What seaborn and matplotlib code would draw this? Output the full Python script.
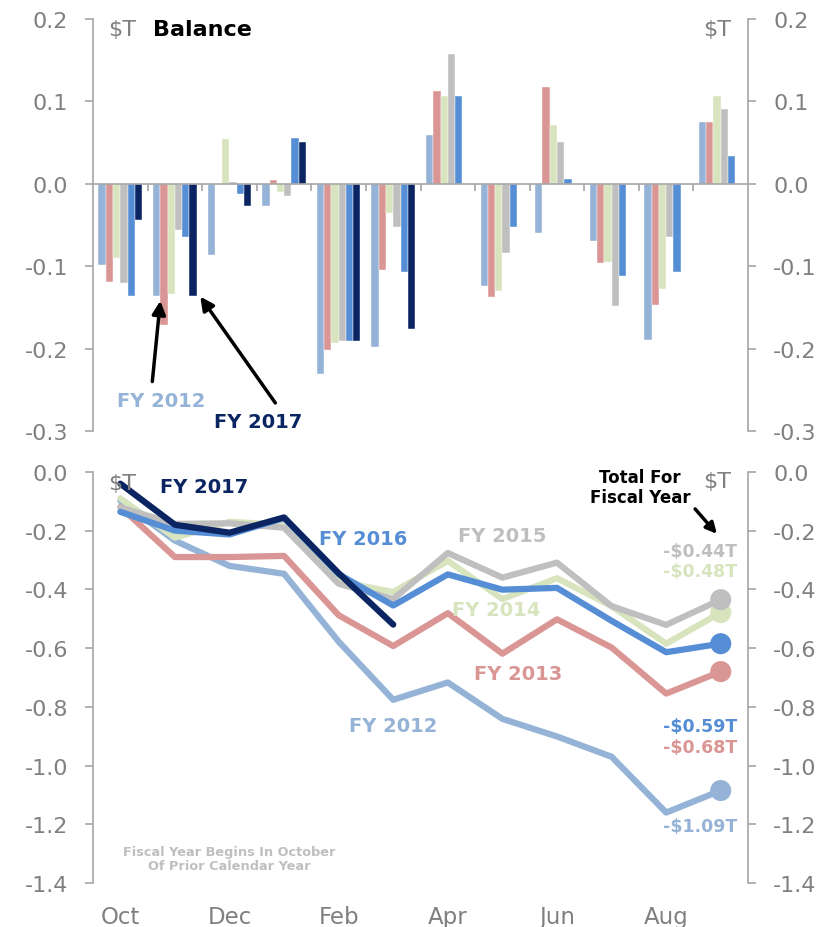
import pandas as pd
import numpy as np
import matplotlib.pyplot as plt
from matplotlib.ticker import FormatStrFormatter
import seaborn as sns

months = ['Oct', 'Nov', 'Dec', 'Jan', 'Feb', 'Mar', 'Apr', 'May', 'Jun', 'Jul', 'Aug', 'Sep']
fy_labels = ['FY 2012', 'FY 2013', 'FY 2014', 'FY 2015', 'FY 2016', 'FY 2017']
fy_colors = ['#95B3D7', '#DA9694', '#D7E4BD', '#BFBFBF', '#558ED5', '#0B2562']

# monthly balance, $T
bal_2012 = [-0.098, -0.136, -0.086, -0.027, -0.231, -0.198, 0.059, -0.124, -0.060, -0.069, -0.190, 0.075]
bal_2013 = [-0.119, -0.171, 0.000, 0.004, -0.202, -0.105, 0.112, -0.138, 0.117, -0.096, -0.147, 0.075]
bal_2014 = [-0.090, -0.134, 0.054, -0.010, -0.193, -0.036, 0.106, -0.130, 0.071, -0.095, -0.128, 0.106]
bal_2015 = [-0.121, -0.056, 0.002, -0.015, -0.191, -0.052, 0.157, -0.084, 0.051, -0.148, -0.064, 0.091]
bal_2016 = [-0.136, -0.064, -0.013, 0.056, -0.191, -0.107, 0.106, -0.052, 0.006, -0.112, -0.107, 0.034]
bal_2017 = [-0.044, -0.136, -0.027, 0.051, -0.191, -0.176]

# running total for the fiscal year, $T
cum_2012 = [-0.098, -0.234, -0.320, -0.347, -0.578, -0.776, -0.717, -0.841, -0.901, -0.970, -1.160, -1.085]
cum_2013 = [-0.119, -0.290, -0.290, -0.286, -0.488, -0.593, -0.481, -0.619, -0.502, -0.598, -0.755, -0.680]
cum_2014 = [-0.090, -0.224, -0.170, -0.180, -0.373, -0.409, -0.303, -0.433, -0.362, -0.457, -0.585, -0.479]
cum_2015 = [-0.121, -0.177, -0.175, -0.190, -0.381, -0.433, -0.276, -0.360, -0.309, -0.457, -0.521, -0.435]
cum_2016 = [-0.136, -0.200, -0.213, -0.157, -0.348, -0.455, -0.349, -0.401, -0.395, -0.507, -0.614, -0.585]
cum_2017 = [-0.040, -0.180, -0.207, -0.155, -0.345, -0.520]

total_labels = ['-$1.09T', '-$0.68T', '-$0.48T', '-$0.44T', '-$0.59T']

sns.set_style('white')
plt.rcParams['font.family'] = ['DejaVu Sans']
plt.rcParams['axes.unicode_minus'] = False

palette = dict(zip(fy_labels, fy_colors))
gray = '#808080'
axis_gray = '#A6A6A6'


def long_form(series):
    rows = []
    for fy, vals in zip(fy_labels, series):
        for i, v in enumerate(vals):
            rows.append({'month': months[i], 'pos': i, 'fy': fy, 'value': v})
    return pd.DataFrame(rows)


bars = long_form([bal_2012, bal_2013, bal_2014, bal_2015, bal_2016, bal_2017])
cum = long_form([cum_2012, cum_2013, cum_2014, cum_2015, cum_2016, cum_2017])

fig = plt.figure(figsize=(8.27, 9.28), dpi=100)
ax1 = fig.add_axes([0.1125, 0.5345, 0.792, 0.444])
ax2 = fig.add_axes([0.1125, 0.0474, 0.792, 0.443])

#Top panel: monthly balance bars
sns.barplot(data=bars, x='month', y='value', hue='fy', order=months, hue_order=fy_labels,
            palette=palette, saturation=1, errorbar=None, width=0.8, edgecolor='white',
            linewidth=0.3, legend=False, ax=ax1)
ax1.set_xlim(-0.5, 11.5)
ax1.set_ylim(-0.3, 0.2)
ax1.set_yticks(np.linspace(-0.3, 0.2, 6))
ax1.yaxis.set_major_formatter(FormatStrFormatter('%.1f'))
ax1.set_xticks(np.arange(0.5, 11, 1))
ax1.set_xticklabels([])
ax1.set_xlabel('')
ax1.set_ylabel('')

#Bottom panel: cumulative lines
sns.lineplot(data=cum, x='pos', y='value', hue='fy', hue_order=fy_labels, palette=palette,
             linewidth=4.5, legend=False, sort=False, ax=ax2)
for ln in ax2.lines:
    ln.set_solid_capstyle('round')
ends = cum[(cum['month'] == 'Sep')]
sns.scatterplot(data=ends, x='pos', y='value', hue='fy', hue_order=fy_labels, palette=palette,
                s=230, edgecolor='none', legend=False, zorder=5, ax=ax2)
ax2.set_xlim(-0.5, 11.5)
ax2.set_ylim(-1.4, 0.0)
ax2.set_yticks(np.linspace(-1.4, 0.0, 8))
ax2.yaxis.set_major_formatter(FormatStrFormatter('%.1f'))
ax2.set_xticks(range(0, 12, 2))
ax2.set_xticklabels(months[::2])
ax2.set_xlabel('')
ax2.set_ylabel('')

for ax in (ax1, ax2):
    ax.spines['top'].set_visible(False)
    for side in ('left', 'right', 'bottom'):
        ax.spines[side].set_color(axis_gray)
        ax.spines[side].set_linewidth(1.2)
    ax.spines['right'].set_visible(True)
    ax.tick_params(axis='y', left=True, right=True, labelleft=True, labelright=True,
                   direction='out', length=6, width=1.2, color=axis_gray,
                   labelcolor=gray, labelsize=16, pad=12)

ax1.spines['bottom'].set_position(('data', 0))
ax1.tick_params(axis='x', bottom=True, direction='out', length=5, width=1.2, color=axis_gray)
ax2.spines['bottom'].set_visible(False)
ax2.tick_params(axis='x', bottom=False, length=0, labelsize=16.5, labelcolor=gray, pad=16)

#Titles and unit labels
ax1.text(0.023, 0.976, '$T', transform=ax1.transAxes, ha='left', va='center', fontsize=16, color=gray)
ax1.text(0.0916, 0.976, 'Balance', transform=ax1.transAxes, ha='left', va='center',
         fontsize=16, fontweight='bold', color='black')
ax1.text(0.974, 0.976, '$T', transform=ax1.transAxes, ha='right', va='center', fontsize=16, color=gray)
ax2.text(0.023, 0.973, '$T', transform=ax2.transAxes, ha='left', va='center', fontsize=16, color=gray)
ax2.text(0.974, 0.978, '$T', transform=ax2.transAxes, ha='right', va='center', fontsize=16, color=gray)

#Top annotations
arrow = dict(arrowstyle='-|>', color='black', lw=2.5, mutation_scale=20, shrinkA=0, shrinkB=0)
ax1.annotate('', xy=(0.733, -0.142), xytext=(0.586, -0.240), arrowprops=arrow)
ax1.annotate('', xy=(1.465, -0.137), xytext=(2.84, -0.266), arrowprops=arrow)
ax1.text(0.75, -0.263, 'FY 2012', ha='center', va='center', fontsize=14, fontweight='bold', color=fy_colors[0])
ax1.text(2.53, -0.289, 'FY 2017', ha='center', va='center', fontsize=14, fontweight='bold', color=fy_colors[5])

#Bottom annotations
fy_pos = [(5.0, -0.862), (7.29, -0.688), (6.89, -0.470), (7.0, -0.218), (4.45, -0.228), (1.54, -0.051)]
for (x, y), fy, c in zip(fy_pos, fy_labels, fy_colors):
    ax2.text(x, y, fy, ha='center', va='center', fontsize=14, fontweight='bold', color=c)

total_y = [-1.206, -0.937, -0.337, -0.269, -0.865]
for lab, y, c in zip(total_labels, total_y, fy_colors[:5]):
    ax2.text(11.30, y, lab, ha='right', va='center', fontsize=12.5, fontweight='bold', color=c)

ax2.text(9.52, -0.051, 'Total For\nFiscal Year', ha='center', va='center', fontsize=12,
         fontweight='bold', color='black', linespacing=1.1)
ax2.annotate('', xy=(10.93, -0.211), xytext=(10.53, -0.126),
             arrowprops=dict(arrowstyle='-|>', color='black', lw=2.5, mutation_scale=16, shrinkA=0, shrinkB=0))
ax2.text(2.0, -1.315, 'Fiscal Year Begins In October\nOf Prior Calendar Year', ha='center', va='center',
         fontsize=9.3, fontweight='bold', color='#BFBFBF', linespacing=1.1)

plt.savefig('out.png', dpi=100)
